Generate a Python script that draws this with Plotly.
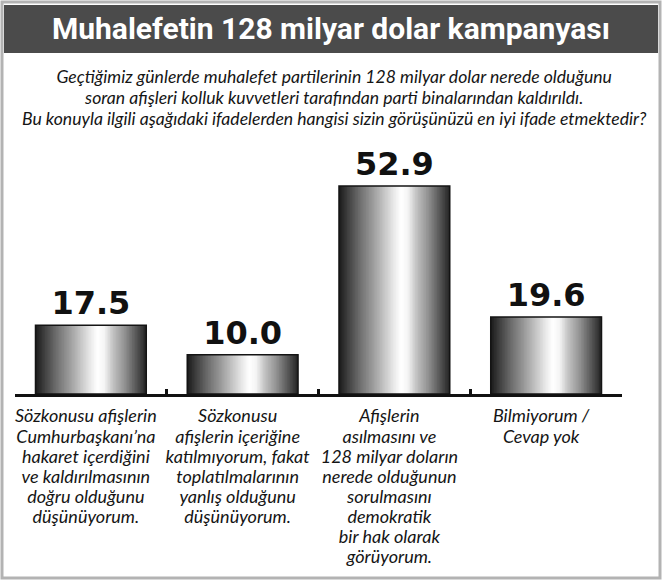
import numpy as np
import plotly.graph_objects as go

# Survey answers (x categories) and their shares in percent
categories = [
    "Sözkonusu afişlerin<br>Cumhurbaşkanı’na<br>hakaret içerdiğini<br>ve kaldırılmasının<br>doğru olduğunu<br>düşünüyorum.",
    "Sözkonusu<br>afişlerin içeriğine<br>katılmıyorum, fakat<br>toplatılmalarının<br>yanlış olduğunu<br>düşünüyorum.",
    "Afişlerin<br>asılmasını ve<br>128 milyar doların<br>nerede olduğunun<br>sorulmasını<br>demokratik<br>bir hak olarak<br>görüyorum.",
    "Bilmiyorum /<br>Cevap yok",
]
values = [17.5, 10.0, 52.9, 19.6]

title_text = "Muhalefetin 128 milyar dolar kampanyası"
subtitle_lines = [
    "Geçtiğimiz günlerde muhalefet partilerinin 128 milyar dolar nerede olduğunu",
    "soran afişleri kolluk kuvvetleri tarafından parti binalarından kaldırıldı.",
    "Bu konuyla ilgili aşağıdaki ifadelerden hangisi sizin görüşünüzü en iyi ifade etmektedir?",
]

# ---- page geometry (pixels) ----
W_PX, H_PX = 663, 583
L, R, T, B = 15, 622, 158, 394
PW, PH = R - L, B - T


def px(x):
    return (x - L) / PW


def py(y):
    return (B - y) / PH


BAR_W = 0.73
N_STRIPS = 70

# cylinder-like shading across the bar width
shade_t = [0.0, 0.08, 0.2, 0.3, 0.4, 0.5, 0.56, 0.62, 0.7, 0.8, 0.9, 1.0]
shade_v = [0.10, 0.25, 0.45, 0.60, 0.76, 0.92, 1.00, 0.96, 0.76, 0.58, 0.36, 0.14]

fig = go.Figure()

step = BAR_W / N_STRIPS
for k in range(N_STRIPS):
    t = (k + 0.5) / N_STRIPS
    g = int(round(255 * float(np.interp(t, shade_t, shade_v))))
    fig.add_trace(go.Bar(
        x=categories, y=values,
        width=BAR_W - k * step,
        offset=-BAR_W / 2 + k * step,
        marker=dict(color=f"rgb({g},{g},{g})", line=dict(width=0)),
        hoverinfo="skip", showlegend=False,
    ))

# outline + value labels
fig.add_trace(go.Bar(
    x=categories, y=values,
    width=BAR_W, offset=-BAR_W / 2,
    marker=dict(color="rgba(0,0,0,0)", line=dict(color="#141414", width=1.5)),
    texttemplate="%{y:.1f}", textposition="outside",
    textfont=dict(family="DejaVu Sans", size=32, color="#111111", weight="bold"),
    constraintext="none", cliponaxis=False,
    hoverinfo="skip", showlegend=False,
))

LABEL_PX = 18
tick_text = [f'<i><span style="font-size:{LABEL_PX}px">{c}</span></i>' for c in categories]

fig.update_layout(
    width=W_PX, height=H_PX,
    margin=dict(l=L, r=W_PX - R, t=T, b=H_PX - B, pad=0),
    paper_bgcolor="white", plot_bgcolor="white",
    barmode="overlay",
    xaxis=dict(
        range=[-0.5, 3.5], showgrid=False, zeroline=False,
        showline=True, linecolor="#111111", linewidth=3,
        ticks="inside", ticklen=5, tickwidth=2.5, tickcolor="#111111",
        tickson="boundaries", tickangle=0, automargin=False,
        tickvals=categories, ticktext=tick_text,
        tickfont=dict(family="Lato", size=15.4, color="#151515", style="italic"),
        ticklabelstandoff=7, ticklabelshift=-5,
    ),
    yaxis=dict(range=[0, 60], visible=False, automargin=False),
    shapes=[
        dict(type="rect", xref="paper", yref="paper",
             x0=px(2), x1=px(660), y0=py(2), y1=py(578),
             line=dict(color="#b3b3b3", width=3), fillcolor="rgba(0,0,0,0)",
             layer="below"),
        dict(type="rect", xref="paper", yref="paper",
             x0=px(4), x1=px(658), y0=py(5), y1=py(53),
             line=dict(width=0), fillcolor="#4b4b4b", layer="below"),
    ],
    annotations=[
        dict(text=title_text, xref="paper", yref="paper", x=px(331), y=py(29),
             xanchor="center", yanchor="middle", showarrow=False,
             font=dict(family="Roboto", size=30, color="white", weight="bold")),
        dict(text='<i><span style="font-size:17.6px">' + "<br>".join(subtitle_lines) + "</span></i>",
             xref="paper", yref="paper", x=px(334), y=py(97),
             xanchor="center", yanchor="middle", showarrow=False, align="center",
             font=dict(family="Lato", size=16.2, color="#151515", style="italic")),
    ],
)

fig.write_html("out.html")
